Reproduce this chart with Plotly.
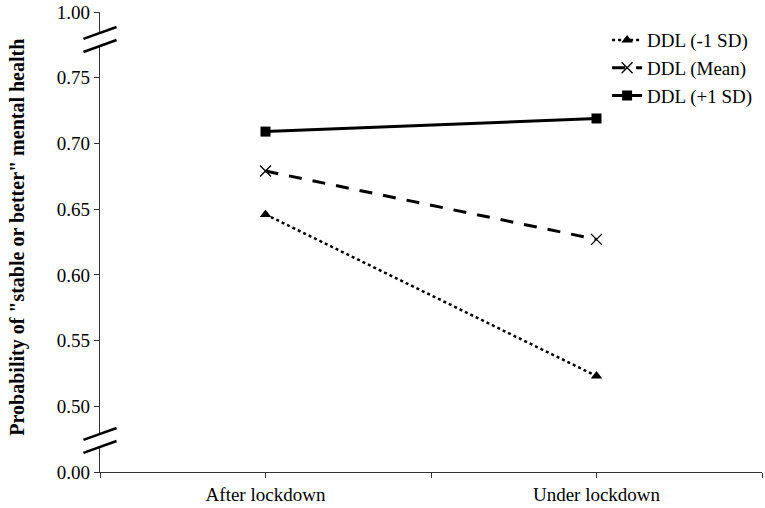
import plotly.graph_objects as go

categories = ["After lockdown", "Under lockdown"]
series_names = ["DDL (-1 SD)", "DDL (Mean)", "DDL (+1 SD)"]
low_sd = [0.646, 0.523]
mean_v = [0.679, 0.627]
high_sd = [0.709, 0.719]

# broken axis: 0.00 shown at 0.45 position, 1.00 shown at 0.80 position
tick_vals = [0.45, 0.50, 0.55, 0.60, 0.65, 0.70, 0.75, 0.80]
tick_text = ["0.00", "0.50", "0.55", "0.60", "0.65", "0.70", "0.75", "1.00"]
y_title = "Probability of \"stable or better\" mental health"

FONT = "Liberation Serif, Times New Roman, DejaVu Serif, serif"
x_idx = [0, 1]

fig = go.Figure()
fig.add_trace(go.Scatter(x=x_idx, y=low_sd, name=series_names[0], mode="lines+markers",
                         line=dict(color="black", width=2.5, dash="dot"),
                         marker=dict(symbol="triangle-up", size=10, color="black")))
fig.add_trace(go.Scatter(x=x_idx, y=mean_v, name=series_names[1], mode="lines+markers",
                         line=dict(color="black", width=3, dash="13px,11px"),
                         marker=dict(symbol="x-thin-open", size=11, color="black",
                                     line=dict(color="black", width=1.3))))
fig.add_trace(go.Scatter(x=x_idx, y=high_sd, name=series_names[2], mode="lines+markers",
                         line=dict(color="black", width=3),
                         marker=dict(symbol="square", size=10, color="black")))

# axis break marks
dx = 0.025
rise = 0.0091
gap = 0.0099
for c in (0.7795, 0.4744):
    fig.add_shape(type="path", xref="paper", yref="y",
                  path=(f"M {-dx} {c} L {dx} {c+rise} L {dx} {c+rise-gap} "
                        f"L {-dx} {c-gap} Z"),
                  fillcolor="white", line=dict(width=0), layer="above")
    fig.add_shape(type="line", xref="paper", yref="y", x0=-dx, x1=dx,
                  y0=c, y1=c + rise, line=dict(color="black", width=2.5), layer="above")
    fig.add_shape(type="line", xref="paper", yref="y", x0=-dx, x1=dx,
                  y0=c - gap, y1=c - gap + rise, line=dict(color="black", width=2.5), layer="above")

fig.add_annotation(text=f"<b>{y_title}</b>", xref="paper", yref="paper",
                   x=-0.125, y=0.51, textangle=-90, showarrow=False,
                   xanchor="center", yanchor="middle",
                   font=dict(family=FONT, size=20, color="black"))

fig.update_layout(
    width=765, height=508,
    margin=dict(l=100, r=3, t=12, b=36, autoexpand=False),
    paper_bgcolor="white", plot_bgcolor="white",
    font=dict(family=FONT, size=19, color="black"),
    legend=dict(x=0.766, y=0.98, xanchor="left", yanchor="top",
                font=dict(family=FONT, size=19, color="black"),
                bgcolor="rgba(0,0,0,0)", tracegroupgap=0),
    showlegend=True,
)
fig.update_xaxes(range=[-0.5, 1.5], tickvals=[-0.5, 0, 0.5, 1, 1.5],
                 ticktext=["", categories[0], "", categories[1], ""],
                 showline=True, linecolor="#333", linewidth=1.2,
                 ticks="outside", ticklen=5, tickcolor="#333", tickwidth=1.2,
                 showgrid=False, zeroline=False, automargin=False,
                 tickfont=dict(family=FONT, size=19, color="black"))
fig.update_yaxes(range=[0.45, 0.80], tickvals=tick_vals, ticktext=tick_text,
                 showline=True, linecolor="#333", linewidth=1.2,
                 ticks="outside", ticklen=5, tickcolor="#333", tickwidth=1.2,
                 showgrid=False, zeroline=False, automargin=False,
                 ticklabeloverflow="allow",
                 tickfont=dict(family=FONT, size=19, color="black"))

fig.write_html("out.html", config={"displayModeBar": False},
               post_script="document.body.style.margin='0';")
